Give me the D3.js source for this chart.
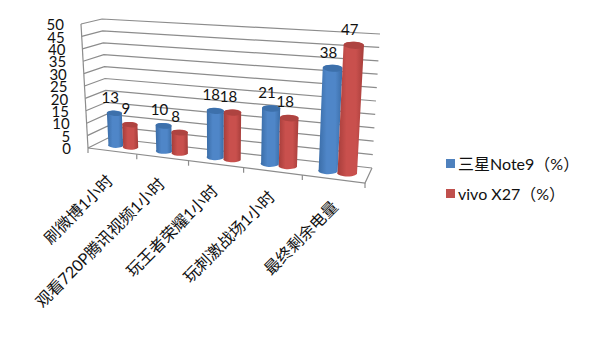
<!DOCTYPE html>
<html>
<head>
<meta charset="utf-8">
<script src="https://cdn.jsdelivr.net/npm/d3@7"></script>
<style>
  html, body { margin: 0; padding: 0; background: #fff; }
  text { font-family: Lato, "Noto Sans CJK SC", sans-serif; fill: #111; }
</style>
</head>
<body>
<div id="root"></div>
<script>
const categories = ['刷微博1小时', '观看720P腾讯视频1小时', '玩王者荣耀1小时', '玩刺激战场1小时', '最终剩余电量'];
const seriesNames = ['三星Note9（%）', 'vivo X27（%）'];
const samsung = [13, 10, 18, 21, 38];
const vivo = [9, 8, 18, 18, 47];
const yTicks = [0, 5, 10, 15, 20, 25, 30, 35, 40, 45, 50];

const width = 594, height = 356;

// углы "коробки" на экране: [x, y] при значении 0 и при 50
const box = {
    frontLeft: { low: [88, 148], high: [81, 24] },
    backLeft: { low: [108, 138], high: [102, 19] },
    frontRight: { low: [365, 183], high: [373, 43] },
    backRight: { low: [372, 168], high: [380, 34] }
};

const v = d3.scaleLinear().domain([0, 50]).range([0, 1]);

// перспектива вдоль оси X: категории справа шире
const persp = t => t / (t + 1.17 * (1 - t));

const x0 = d3.scaleBand().domain(categories).range([0.008, 1]).paddingInner(0.37).paddingOuter(0.185);
const seriesKeys = [0, 1];
const x1 = d3.scaleBand().domain(seriesKeys).range([0, x0.bandwidth()]);

const edge = (c, val) => d3.interpolateArray(c.low, c.high)(v(val));
const project = (t, depth, val) => {
    const left = d3.interpolateArray(edge(box.frontLeft, val), edge(box.backLeft, val))(depth);
    const right = d3.interpolateArray(edge(box.frontRight, val), edge(box.backRight, val))(depth);
    return d3.interpolateArray(left, right)(persp(t));
};

const svg = d3.select('#root').append('svg')
    .attr('width', width)
    .attr('height', height)
    .style('display', 'block');

const defs = svg.append('defs');
const gradient = (id, edgeColor, midColor) => {
    const g = defs.append('linearGradient').attr('id', id);
    g.append('stop').attr('offset', '0%').attr('stop-color', edgeColor);
    g.append('stop').attr('offset', '35%').attr('stop-color', midColor);
    g.append('stop').attr('offset', '70%').attr('stop-color', midColor);
    g.append('stop').attr('offset', '100%').attr('stop-color', edgeColor);
};
gradient('bodyBlue', '#3a6ca6', '#4f86c8');
gradient('bodyRed', '#a53d3a', '#c9504d');
const topColors = ['#3d70ab', '#ae4340'];
const legendColors = ['#4f81bd', '#c0504d'];

// стены и пол
const grid = svg.append('g').attr('fill', 'none').attr('stroke', '#8c8c8c').attr('stroke-width', 1.2);

grid.selectAll('path.row')
    .data(yTicks)
    .join('path')
    .attr('class', 'row')
    .attr('d', d => d3.line()([project(0, 0, d), project(0, 1, d), project(1, 1, d)]));

grid.append('path').attr('d', d3.line()([project(0, 0, 0), project(0, 0, 50)]));
grid.append('path').attr('d', d3.line()([project(0, 0, 0), project(1, 0, 0), project(1, 1, 0)]));

// засечки категорий
const tickStops = d3.range(categories.length + 1).map(i => i / categories.length);
grid.selectAll('path.tick')
    .data(tickStops)
    .join('path')
    .attr('class', 'tick')
    .attr('d', d => {
        const p = project(d, 0, 0);
        return d3.line()([p, [p[0], p[1] + 5]]);
    });

// подписи оси Y
svg.append('g')
    .selectAll('text')
    .data(yTicks)
    .join('text')
    .attr('x', d => project(0, 0, d)[0] - 17)
    .attr('y', d => project(0, 0, d)[1] + 1)
    .attr('dy', '0.35em')
    .attr('text-anchor', 'end')
    .attr('font-size', 15)
    .text(d => d);

// цилиндры
const barDepth = 0.5;
const rows = categories.flatMap((c, i) => [samsung[i], vivo[i]].map((val, s) => ({ c, s, val })));

const bars = svg.append('g').selectAll('g')
    .data(rows)
    .join('g');

bars.append('path')
    .attr('fill', d => d.s === 0 ? 'url(#bodyBlue)' : 'url(#bodyRed)')
    .attr('d', d => {
        const t = x0(d.c) + x1(d.s);
        const w = x1.bandwidth();
        const a = project(t, barDepth, 0), b = project(t + w, barDepth, 0);
        const c = project(t, barDepth, d.val), e = project(t + w, barDepth, d.val);
        const rx = (b[0] - a[0]) / 2, ry = rx * 0.35;
        return `M${c[0]},${c[1]}L${a[0]},${a[1]}A${rx},${ry} 0 0 0 ${b[0]},${b[1]}L${e[0]},${e[1]}A${rx},${ry} 0 0 0 ${c[0]},${c[1]}Z`;
    });

bars.append('ellipse')
    .attr('fill', d => topColors[d.s])
    .each(function (d) {
        const t = x0(d.c) + x1(d.s);
        const w = x1.bandwidth();
        const c = project(t, barDepth, d.val), e = project(t + w, barDepth, d.val);
        const rx = (e[0] - c[0]) / 2;
        const cy = (c[1] + e[1]) / 2;
        d3.select(this)
            .attr('cx', (c[0] + e[0]) / 2)
            .attr('cy', cy)
            .attr('rx', rx)
            .attr('ry', rx * 0.35)
            .attr('transform', `rotate(${Math.atan2(e[1] - c[1], e[0] - c[0]) * 180 / Math.PI} ${(c[0] + e[0]) / 2} ${cy})`);
    });

// подписи значений
svg.append('g').selectAll('text')
    .data(rows)
    .join('text')
    .attr('text-anchor', 'middle')
    .attr('dy', '0.35em')
    .attr('font-size', 15)
    .attr('x', d => project(x0(d.c) + x1(d.s) + x1.bandwidth() / 2, barDepth, d.val)[0] - 4)
    .attr('y', d => project(x0(d.c) + x1(d.s) + x1.bandwidth() / 2, barDepth, d.val)[1] - 16)
    .text(d => d.val);

// подписи категорий под 45 градусов
const labelEnds = [[113, 177], [165, 180], [218, 187], [275, 193], [338, 203]];
svg.append('g').selectAll('text')
    .data(categories)
    .join('text')
    .attr('text-anchor', 'end')
    .attr('font-size', 16)
    .attr('transform', (d, i) => `translate(${labelEnds[i][0] + 1},${labelEnds[i][1] + 5}) rotate(-45)`)
    .text(d => d);

// легенда
const legendY = d3.scalePoint().domain(seriesNames).range([164, 194]);
const legend = svg.append('g').selectAll('g')
    .data(seriesNames)
    .join('g')
    .attr('transform', d => `translate(446,${legendY(d)})`);
legend.append('rect')
    .attr('y', -5)
    .attr('width', 9)
    .attr('height', 9)
    .attr('fill', (d, i) => legendColors[i]);
legend.append('text')
    .attr('x', 12)
    .attr('dy', '0.35em')
    .attr('font-size', 16)
    .text(d => d);
</script>
</body>
</html>
